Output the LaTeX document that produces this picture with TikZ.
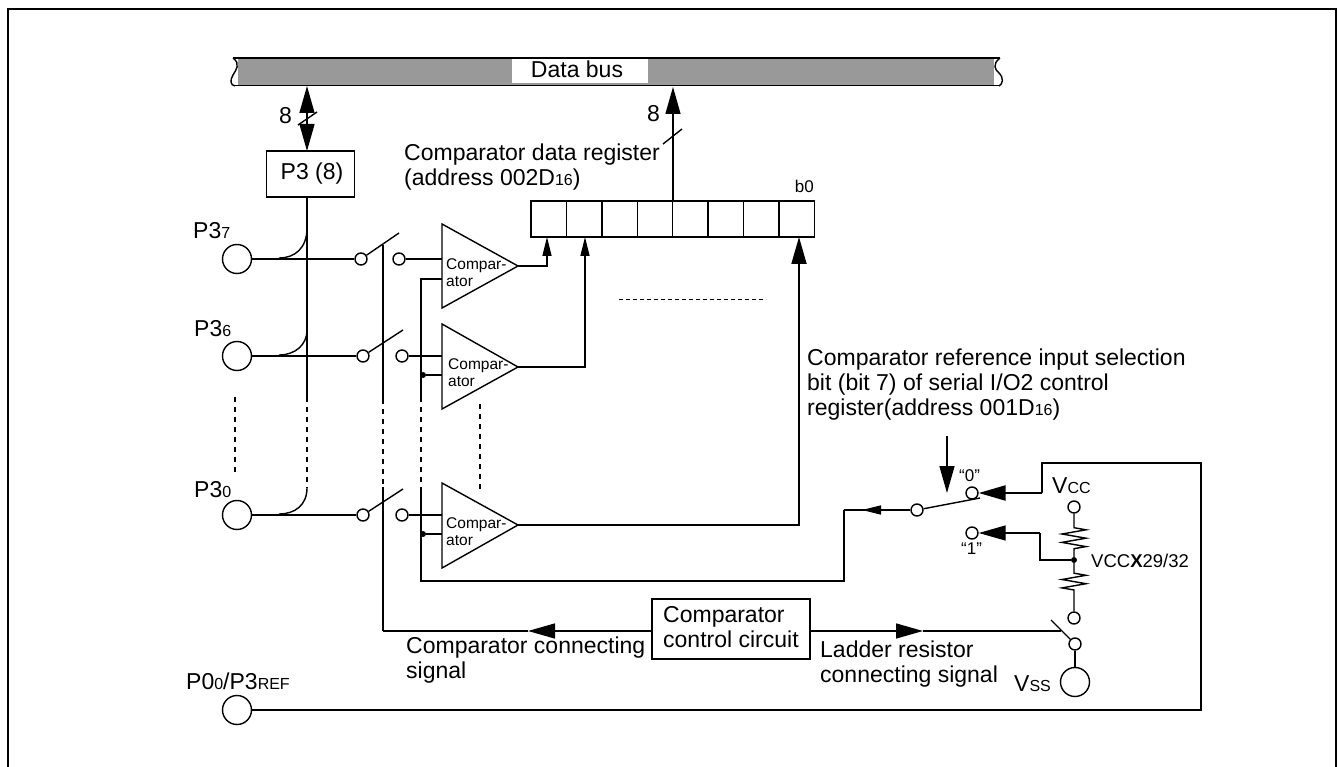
\documentclass[tikz,border=0pt]{standalone}
\usepackage{fontspec}
\setmainfont{Liberation Sans}
\usepackage{tikz}
\usetikzlibrary{arrows.meta,calc,decorations.pathmorphing}

\newcommand{\sm}[1]{{\fontsize{16}{16}\selectfont #1}}
\tikzset{
  wire/.style={line width=1.4pt},
  pinring/.style={circle,draw,line width=1.4pt,minimum size=29pt,inner sep=0pt},
  contact/.style={circle,draw,line width=1.4pt,fill=white,minimum size=12pt,inner sep=0pt},
  dotjoin/.style={circle,fill=black,minimum size=6pt,inner sep=0pt},
  textlabel/.style={inner sep=0pt,anchor=base west,font=\fontsize{23}{25}\selectfont},
  block/.style={inner sep=0pt,anchor=west,align=left,font=\fontsize{23}{25}\selectfont},
  cmptext/.style={inner sep=0pt,anchor=west,align=left,font=\fontsize{15.5}{17}\selectfont},
  smalltext/.style={inner sep=0pt,anchor=base west,font=\fontsize{17}{17}\selectfont},
  bigtip/.tip={Triangle[length=27pt,width=15pt]},
  smalltip/.tip={Triangle[length=19pt,width=9pt]},
  dashline/.style={line width=1.4pt,dash pattern=on 5pt off 5pt},
  resistor/.style 2 args={wire,decorate,decoration={zigzag,amplitude=12pt,segment length=8.4pt,pre length=#1,post length=#2}}
}

\begin{document}
\begin{tikzpicture}[x=1pt,y=-1pt]
\useasboundingbox (0,0) rectangle (1339,767);
% frame
\draw[line width=2.6pt] (8,767) -- (8,9) -- (1336,9) -- (1336,767);
% data bus
\fill[black!40] (238,57) rectangle (994,85);
\node[fill=white,minimum width=136pt,minimum height=24pt,inner sep=0pt] (bus) at (580,71) {};
\node[textlabel,anchor=base] (buslabel) at (577,78) {Data bus};
\draw[line width=1.6pt] (233,58) -- (1000,58);
\draw[line width=1.6pt] (233,85.5) -- (1000,85.5);
\draw[wire] (233,58) .. controls (241,64) and (236,70) .. (233,75) .. controls (230,80) and (230,85) .. (235,86);
\draw[wire] (1000,58) .. controls (992,64) and (995,70) .. (999,73) .. controls (1004,78) and (1003,84) .. (999,86);

% port and pins
\node[draw,wire,minimum width=88pt,minimum height=46pt,inner sep=0pt,font=\fontsize{23}{25}\selectfont] (port) at (310.5,174) {\hspace*{3pt}P3 (8)};
\coordinate (busA) at (307,86);
\coordinate (portA) at (307,151);
\coordinate (portB) at (307,197);
\draw[wire,{bigtip}-{bigtip}] (busA) -- (portA);
\draw[wire] (298,125) -- (317,112);
\node[textlabel] (eightA) at (279,124) {8};
\node (pinA) [pinring] at (237,259) {};
\node (pinB) [pinring] at (237,356) {};
\node (pinC) [pinring] at (237,515) {};
\node (pinD) [pinring] at (237,710) {};
\node[textlabel] (pinAl) at (193,239) {P3\sm{7}};
\node[textlabel] (pinBl) at (194,337) {P3\sm{6}};
\node[textlabel] (pinCl) at (194,497) {P3\sm{0}};
\node[textlabel] (pinDl) at (186,689) {P0\sm{0}/P3\sm{REF}};

% contacts
\node (swA) [contact] at (361,259) {};
\node (swAb) [contact] at (399,259) {};
\node (swB) [contact] at (363,356) {};
\node (swBb) [contact] at (402,356) {};
\node (swC) [contact] at (363,515) {};
\node (swCb) [contact] at (402,515) {};
\coordinate (bladeA) at (399,233);
\coordinate (bladeB) at (403,330);
\coordinate (bladeC) at (403,489);
\draw[wire] (pinA) -- (swA);
\draw[wire] (pinB) -- (swB);
\draw[wire] (pinC) -- (swC);
\draw[wire] (swA) -- (bladeA);
\draw[wire] (swB) -- (bladeB);
\draw[wire] (swC) -- (bladeC);

% port bus line
\coordinate (portS) at (307,397);
\coordinate (portE) at (307,488);
\draw[wire] (portB) -- (portS);
\draw[dashline] (portS) -- (portE);
\draw[wire] (307,228) .. controls (307,248) and (295,258) .. (279,258);
\draw[wire] (307,330) .. controls (307,345) and (295,355) .. (279,355);
\draw[wire] (portE) .. controls (307,505) and (295,514) .. (279,514);
\draw[dashline] (235,397) -- (235,475);

% comparators
\coordinate (cmpEdge) at (442,0);
\coordinate (tipA) at (518,266);
\coordinate (tipB) at (518,367);
\coordinate (tipC) at (518,525);
\draw[wire,line join=miter] (442,224) -- (442,308) -- (tipA) -- cycle;
\draw[wire,line join=miter] (442,324) -- (442,409) -- (tipB) -- cycle;
\draw[wire,line join=miter] (442,483) -- (442,568) -- (tipC) -- cycle;
\node[cmptext] (cmpA) at (446,273) {Compar-\\ator};
\node[cmptext] (cmpB) at (448,373) {Compar-\\ator};
\node[cmptext] (cmpC) at (446,532) {Compar-\\ator};
\draw[wire] (swAb) -- (swAb -| cmpEdge);
\draw[wire] (swBb) -- (swBb -| cmpEdge);
\draw[wire] (swCb) -- (swCb -| cmpEdge);
\draw[dashline] (480,404) -- (480,489);

% connecting signal bar
\coordinate (barA) at (383,245);
\coordinate (barS) at (383,399);
\coordinate (barE) at (383,487);
\coordinate (barF) at (383,631);
\draw[wire] (barA) -- (barS);
\draw[dashline] (barS) -- (barE);
\draw[wire] (barE) -- (barF);

% reference line
\coordinate (refA) at (421,279);
\coordinate (refS) at (421,397);
\coordinate (refE) at (421,490);
\coordinate (refF) at (421,581);
\coordinate (refG) at (844,581);
\coordinate (refH) at (844,510);
\node (dotB) [dotjoin] at (423,375) {};
\node (dotC) [dotjoin] at (423,534) {};
\draw[wire] (refA -| cmpEdge) -- (refA) -- (refS);
\draw[dashline] (refS) -- (refE);
\draw[wire] (refE) -- (refF) -- (refG) -- (refH);
\draw[wire] (dotB) -- (dotB -| cmpEdge);
\draw[wire] (dotC) -- (dotC -| cmpEdge);

% register
\foreach \i in {1,...,8} {
  \node[draw,wire,minimum width=35.4pt,minimum height=36pt,inner sep=0pt] (cell\i) at ({531+35.4*(\i-.5)},219) {};
}
\node[smalltext,anchor=base east] (bzero) at (814,193) {b0};
\node[block] (reglabel) at (404,167.5) {Comparator data register\\(address 002D\sm{16})};
\coordinate (regUp) at (673,201);
\coordinate (busB) at (673,87);
\draw[wire,-{bigtip}] (regUp) -- (busB);
\draw[wire] (663,144) -- (682,129);
\node[textlabel] (eightB) at (647,122) {8};
\draw[wire,-{smalltip}] (tipA) -| (547,237);
\draw[wire,-{smalltip}] (tipB) -| (585,237);
\draw[line width=1.8pt,-{bigtip}] (tipC) -| (799,237);
\draw[line width=1pt,dash pattern=on 4pt off 3pt] (619,300) -- (766,300);

% reference selection
\node[block] (sellabel) at (807,385) {Comparator reference input selection\\bit (bit 7) of serial I/O2 control\\register(address 001D\sm{16})};
\coordinate (selA) at (947,436);
\coordinate (selB) at (947,493);
\draw[wire,-{bigtip}] (selA) -- (selB);
\node (swS) [contact] at (917,510) {};
\node (zero) [contact] at (972,493) {};
\node (one) [contact] at (972,533) {};
\node[smalltext] (zerol) at (959,481) {“0”};
\node[smalltext] (onel) at (961,554) {“1”};
\coordinate (bladeS) at (980,498);
\coordinate (swTip) at (862,510);
\draw[wire] (swS) -- (bladeS);
\draw[wire] (swS) -- (refH);
\draw[wire,-{smalltip}] (swS) -- (swTip);
\coordinate (vrefA) at (1042,493);
\coordinate (vrefB) at (1042,463);
\coordinate (vrefC) at (1201,463);
\coordinate (vrefD) at (1201,710);
\draw[line width=2.4pt,-{bigtip}] (vrefA) -- (zero);
\draw[wire] (vrefA) -- (vrefB) -- (vrefC) -- (vrefD) -- (pinD);

% ladder
\node (vcc) [contact] at (1074,507) {};
\node (dotL) [dotjoin] at (1074,560) {};
\node (vbot) [contact] at (1074,618) {};
\node (swL) [contact] at (1075,644) {};
\node (vss) [pinring] at (1075,682) {};
\node[textlabel] (vccl) at (1052,493) {V\sm{CC}};
\node[textlabel] (vssl) at (1014,691) {V\sm{SS}};
\node[smalltext,font=\fontsize{18.5}{18}\selectfont] (ratio) at (1091,567) {VCC\textbf{X}29/32};
\draw[resistor={14pt}{8pt}] (vcc) -- (dotL);
\draw[resistor={10pt}{18pt}] (dotL) -- (vbot);
\coordinate (oneA) at (1040,533);
\draw[wire,-{bigtip}] (oneA) -- (one);
\draw[wire] (oneA) -- (oneA |- dotL) -- (dotL);
\coordinate (bladeL) at (1051,620);
\coordinate (ladA) at (1061,631);
\draw[wire] (swL) -- (bladeL);
\draw[wire] (swL) -- (vss);

% control circuit
\node[draw,wire,minimum width=158pt,minimum height=60pt,inner sep=0pt] (ctrl) at (731,629) {};
\node[block] (ctrllabel) at (663,627) {Comparator\\control circuit};
\coordinate (arrL) at (528,631);
\coordinate (arrR) at (923,631);
\coordinate (ctrlL) at (652,631);
\coordinate (ctrlR) at (810,631);
\draw[wire,-{bigtip}] (ctrlL) -- (arrL);
\draw[wire] (arrL) -- (barF);
\draw[wire,-{bigtip}] (ctrlR) -- (arrR);
\draw[wire] (arrR) -- (ladA);
\node[block] (cmpsig) at (406,660.5) {Comparator connecting\\signal};
\node[block] (ladsig) at (820,664) {Ladder resistor\\connecting signal};
\end{tikzpicture}
\end{document}
